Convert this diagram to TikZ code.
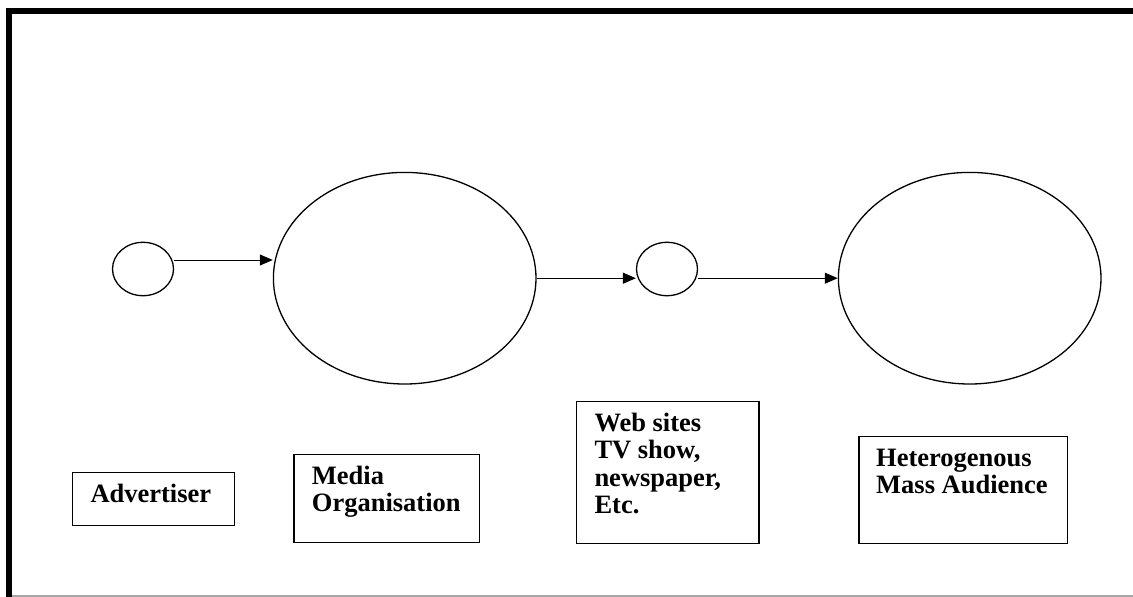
\documentclass[tikz,border=0pt]{standalone}
\usepackage{fontspec}
\setmainfont{Liberation Serif}
\usetikzlibrary{shapes.geometric,arrows.meta,calc}

\tikzset{
  bubble/.style={draw=black, line width=1.3pt, ellipse, inner sep=0pt},
  smallbubble/.style={bubble, minimum width=61pt, minimum height=53.4pt},
  bigbubble/.style={bubble, minimum width=262.6pt, minimum height=211.6pt},
  flow/.style={draw=black, line width=1pt, -{Triangle[length=13pt,width=11pt]}},
  labelbox/.style={draw=black, line width=1.3pt, rectangle, inner sep=0pt, anchor=north west},
  boxtext/.style={anchor=base west, inner sep=0pt,
    font=\fontsize{26.5}{27.2}\selectfont\bfseries},
}

\begin{document}
\begin{tikzpicture}[x=1pt,y=-1pt]
  \useasboundingbox (0,0) rectangle (1133,597);

  % frame: heavy rule on top and left, thin grey rule at the bottom
  \draw[gray!70, line width=1.2pt] (6,596) -- (1133,596);
  \draw[black, line width=6pt] (9,597) -- (9,11) -- (1133,11);

  % flow of the message
  \node[smallbubble] (adv)   at (143,269)     {};
  \node[bigbubble]   (media) at (404.7,278.2) {};
  \node[smallbubble] (chan)  at (667,269)     {};
  \node[bigbubble]   (aud)   at (969.7,278.2) {};

  \draw[flow] ([yshift=9pt]adv.east) -- ([yshift=9pt]adv.east -| media.west);
  \draw[flow] (media.east) -- (media.east -| chan.west);
  \draw[flow] (chan.east |- aud.west) -- (aud.west);

  % captions
  \node[labelbox, minimum width=162pt, minimum height=53pt] (advbox) at (71.7,471.7) {};
  \node[boxtext] (advtxt) at (90.3,502.3) {Advertiser};

  \node[labelbox, minimum width=185.7pt, minimum height=88pt] (mediabox) at (293.3,454) {};
  \node[boxtext] (mediatxt) at (311.7,484.3)
    {\begin{tabular}[t]{@{}l@{}}Media\\Organisation\end{tabular}};

  \node[labelbox, minimum width=182.6pt, minimum height=141.7pt] (chanbox) at (575.7,401) {};
  \node[boxtext] (chantxt) at (594.3,431.7)
    {\begin{tabular}[t]{@{}l@{}}Web sites\\TV show,\\newspaper,\\Etc.\end{tabular}};

  \node[labelbox, minimum width=208.7pt, minimum height=106.7pt] (audbox) at (858.3,436) {};
  \node[boxtext] (audtxt) at (876,466)
    {\begin{tabular}[t]{@{}l@{}}Heterogenous\\Mass Audience\end{tabular}};
\end{tikzpicture}
\end{document}
